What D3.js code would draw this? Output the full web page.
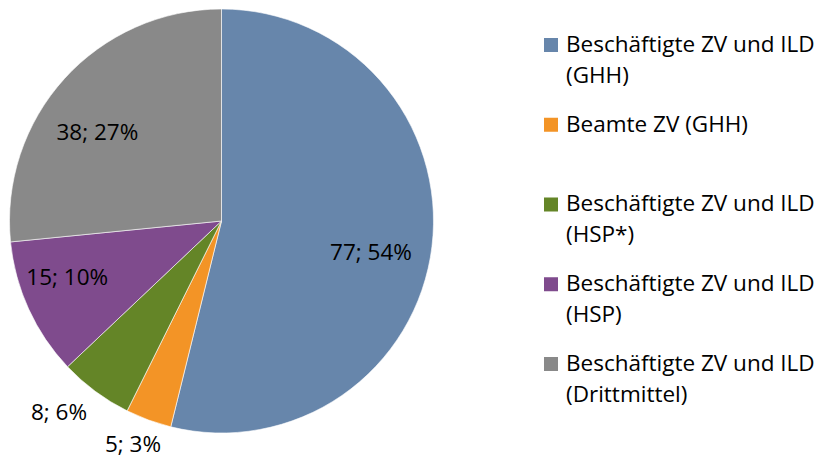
<!DOCTYPE html>
<html>
<head>
<meta charset="utf-8">
<script src="https://cdn.jsdelivr.net/npm/d3@7"></script>
<style>
  html, body { margin: 0; padding: 0; background: #fff; }
  svg { display: block; }
  text { font-family: "Open Sans", "Liberation Sans", sans-serif; fill: #000; }
</style>
</head>
<body>
<svg id="chart" width="826" height="461"></svg>
<script>
const categories = [
  ["Beschäftigte ZV und ILD", "(GHH)"],
  ["Beamte ZV (GHH)"],
  ["Beschäftigte ZV und ILD", "(HSP*)"],
  ["Beschäftigte ZV und ILD", "(HSP)"],
  ["Beschäftigte ZV und ILD", "(Drittmittel)"]
];
const values = [77, 5, 8, 15, 38];
const labels = ["77; 54%", "5; 3%", "8; 6%", "15; 10%", "38; 27%"];
const colors = ["#6786AB", "#F39426", "#648527", "#7F4B8D", "#898989"];

// label placement (radius factor, angle offset in degrees) per slice
const labelRadius = [0.72, 1.132, 1.183, 0.774, 0.72];
const labelAngleOffset = [4.8, 1.5, 3.9, 4.6, -6.6];

const svg = d3.select("#chart");
const cx = 221.5, cy = 221, r = 212;

const pie = d3.pie().sort(null).value(d => d)(values);
const arc = d3.arc().innerRadius(0).outerRadius(r);
const g = svg.append("g").attr("transform", `translate(${cx},${cy})`);

g.selectAll("path").data(pie).join("path")
  .attr("d", arc)
  .attr("fill", (d, i) => colors[i])
  .attr("stroke", "#fff")
  .attr("stroke-width", 0.6);

g.selectAll("text.lbl").data(pie).join("text")
  .attr("class", "lbl")
  .attr("transform", (d, i) => {
    const a = (d.startAngle + d.endAngle) / 2 + labelAngleOffset[i] * Math.PI / 180;
    const rr = labelRadius[i] * r;
    return `translate(${rr * Math.sin(a)},${-rr * Math.cos(a)})`;
  })
  .attr("text-anchor", "middle")
  .attr("dy", "0.35em")
  .style("font-size", "22.5px")
  .text((d, i) => labels[i]);

const legendY = d3.scalePoint().domain(d3.range(categories.length)).range([45, 364]);
const lg = svg.append("g");
const items = lg.selectAll("g").data(categories).join("g")
  .attr("transform", (d, i) => `translate(544,${legendY(i)})`);
items.append("rect").attr("x", 0).attr("y", -7).attr("width", 14).attr("height", 14)
  .attr("fill", (d, i) => colors[i]);
items.each(function(lines) {
  const t = d3.select(this).append("text")
    .attr("x", 22).attr("y", 0)
    .style("font-size", "22.5px");
  lines.forEach((ln, j) => {
    t.append("tspan").attr("x", 22).attr("y", j * 31).attr("dy", "0.3em").text(ln);
  });
});
</script>
</body>
</html>
